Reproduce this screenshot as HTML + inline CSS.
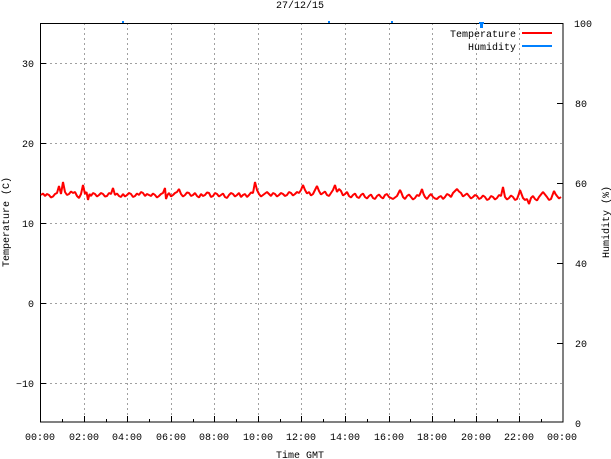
<!DOCTYPE html>
<html><head><meta charset="utf-8"><style>
html,body{margin:0;padding:0;background:#fff;}
svg{display:block;}
text{font-family:"Liberation Mono","DejaVu Sans Mono",monospace;font-size:10px;fill:#000;}
</style></head><body>
<svg width="611" height="459" viewBox="0 0 611 459" xmlns="http://www.w3.org/2000/svg">
<rect width="611" height="459" fill="#fff"/>
<g stroke="#a0a0a0" stroke-width="1" stroke-dasharray="2,3" fill="none">
<line x1="40" y1="63.5" x2="563" y2="63.5"/>
<line x1="40" y1="143.5" x2="563" y2="143.5"/>
<line x1="40" y1="223.5" x2="563" y2="223.5"/>
<line x1="40" y1="303.5" x2="563" y2="303.5"/>
<line x1="40" y1="383.5" x2="563" y2="383.5"/>
<line x1="84.5" y1="23" x2="84.5" y2="422"/>
<line x1="127.5" y1="23" x2="127.5" y2="422"/>
<line x1="171.5" y1="23" x2="171.5" y2="422"/>
<line x1="214.5" y1="23" x2="214.5" y2="422"/>
<line x1="258.5" y1="23" x2="258.5" y2="422"/>
<line x1="301.5" y1="23" x2="301.5" y2="422"/>
<line x1="345.5" y1="23" x2="345.5" y2="422"/>
<line x1="389.5" y1="23" x2="389.5" y2="422"/>
<line x1="432.5" y1="23" x2="432.5" y2="422"/>
<line x1="476.5" y1="23" x2="476.5" y2="422"/>
<line x1="519.5" y1="23" x2="519.5" y2="422"/>
</g>
<g stroke="#000" stroke-width="1" fill="none">
<rect x="40.5" y="23.5" width="522.5" height="398.5"/>
<line x1="40" y1="63.5" x2="46" y2="63.5"/>
<line x1="40" y1="143.5" x2="46" y2="143.5"/>
<line x1="40" y1="223.5" x2="46" y2="223.5"/>
<line x1="40" y1="303.5" x2="46" y2="303.5"/>
<line x1="40" y1="383.5" x2="46" y2="383.5"/>
<line x1="557" y1="103.5" x2="563" y2="103.5"/>
<line x1="557" y1="183.5" x2="563" y2="183.5"/>
<line x1="557" y1="263.5" x2="563" y2="263.5"/>
<line x1="557" y1="343.5" x2="563" y2="343.5"/>
<path d="M84.5 422v-6M127.5 422v-6M171.5 422v-6M214.5 422v-6M258.5 422v-6M301.5 422v-6M345.5 422v-6M389.5 422v-6M432.5 422v-6M476.5 422v-6M519.5 422v-6"/>
<path d="M62.5 422v-3M106.5 422v-3M149.5 422v-3M193.5 422v-3M236.5 422v-3M280.5 422v-3M323.5 422v-3M367.5 422v-3M410.5 422v-3M454.5 422v-3M497.5 422v-3M541.5 422v-3"/>
</g>
<text x="300" y="8" text-anchor="middle">27/12/15</text>
<g text-anchor="end">
<text x="34" y="67">30</text>
<text x="34" y="147">20</text>
<text x="34" y="227">10</text>
<text x="34" y="307">0</text>
<text x="34" y="387">−10</text>
</g>
<g text-anchor="start">
<text x="574" y="27">100</text>
<text x="575" y="107">80</text>
<text x="575" y="187">60</text>
<text x="575" y="267">40</text>
<text x="575" y="347">20</text>
<text x="575" y="427">0</text>
</g>
<g text-anchor="middle">
<text x="40" y="440">00:00</text>
<text x="84" y="440">02:00</text>
<text x="127" y="440">04:00</text>
<text x="171" y="440">06:00</text>
<text x="214" y="440">08:00</text>
<text x="258" y="440">10:00</text>
<text x="301" y="440">12:00</text>
<text x="345" y="440">14:00</text>
<text x="389" y="440">16:00</text>
<text x="432" y="440">18:00</text>
<text x="476" y="440">20:00</text>
<text x="519" y="440">22:00</text>
<text x="562" y="440">00:00</text>
<text x="300" y="458">Time GMT</text>
</g>
<text transform="translate(9,222) rotate(-90)" text-anchor="middle">Temperature (C)</text>
<text transform="translate(609,222) rotate(-90)" text-anchor="middle">Humidity (%)</text>
<text x="516" y="37" text-anchor="end">Temperature</text>
<text x="516" y="50" text-anchor="end">Humidity</text>
<line x1="522" y1="33" x2="552" y2="33" stroke="#ff0000" stroke-width="2"/>
<line x1="522" y1="46" x2="552" y2="46" stroke="#0080ff" stroke-width="2"/>
<g fill="#0080ff">
<rect x="122" y="21" width="2" height="2"/>
<rect x="328" y="21" width="2" height="2"/>
<rect x="391" y="21" width="2" height="2"/>
<path d="M479 22h5v2h-1v4h-3v-4h-1z"/>
</g>
<polyline fill="none" stroke="#ff0000" stroke-width="2" stroke-linejoin="bevel" points="41,195 43,193.5 45,196 47,194 49,195 51,197.5 53,196.5 55,194 57,193 59,186 61,194 63,182 65,192 67,195 69,194 71,191.5 73,193 75,192 77,196 79,198 81,194 83,185 85,194 86.5,192 88,200 89.5,194 91,196 93,193 95,194 97,196.5 99,195 101,193 103,194 105,196.5 107,196 109,193 111,194 113,188 115,195 117,193.5 119,196 121,197 123,194 125,196.5 127,195 129,193 131,194 133,197 135,196 137,193.5 139,195 141,192 143,193 145,196 147,194 149,195 151,196 153,193.5 155,195 157,197.5 159,196 161,194 163,193 165,188 166,199 167.5,195 169,193 171,196.5 173,195 175,193 177,192 179,189 181,194 183,196.5 185,195 187,192.5 189,193 191,196 193,195 195,193 197,196 199,197.5 201,194 203,196 205,195 207,192.5 209,193 211,197 213,196 215,193 217,194 219,196.5 221,195 223,193.5 225,197 227,198 229,195 231,193 233,194 235,196.5 237,195 239,193 241,197 243,195 245,194 247,197 249,195 251,192.5 253,193 255,182 257,190 259,194 261,196.5 263,195 265,193.5 267,192 269,194 271,196 273,193 275,194 277,196.5 279,195 281,193 283,194 285,196 287,195 289,192 291,193 293,195.5 295,194 297,192 299,193 301,190 303,185 305,190 307,193.5 309,192 311,195.5 313,194 315,190 317,186 319,191 321,194.5 323,193 325,191.5 327,195 329,196 331,193 333,190 335,185 337,192 339,189 341,191 343,195.5 345,194 347,192 349,196 351,197.5 353,195 355,193.5 357,197 359,198 361,195 363,193.5 365,197 367,198.5 369,196 371,194.5 373,198 375,199 377,196 379,194.5 381,197 383,198.5 385,195 387,194 389,197 391,198 393,199 395,197.5 397,196 398.5,193 400,190 401.5,193 403,197 405,199 407,196 409,194.5 411,197 413,199.5 415,198 417,195 419,196 420.5,193 422,189 423.5,194 425,197 427,199 429,196 431,194 433,197 435,198.5 437,199 439,197 441,196 443,199 445,197 447,194 449,195 451,197 453,193 455,191 457,189 459,191.5 461,193 463,196.5 465,195 467,193.5 469,196 471,198.5 473,197 475,195 477,196 479,199 481,198 483,195.5 485,197 487,200 489,199 491,196 493,197 495,199.5 497,198 499,195 501,196 503,187 505,197 507,199.5 509,198 511,195.5 513,197 515,200 517,199 518.5,195 520,190 521.5,194 523,198 525,200 527,199 529,204 531,198 533,196 535,199 537,200.5 539,197 541,194.5 543,192 545,194.5 547,197 549,200 551,199 552.5,195 554,191 555.5,194 557,196 559,198.5 561,197"/>
</svg>
</body></html>
